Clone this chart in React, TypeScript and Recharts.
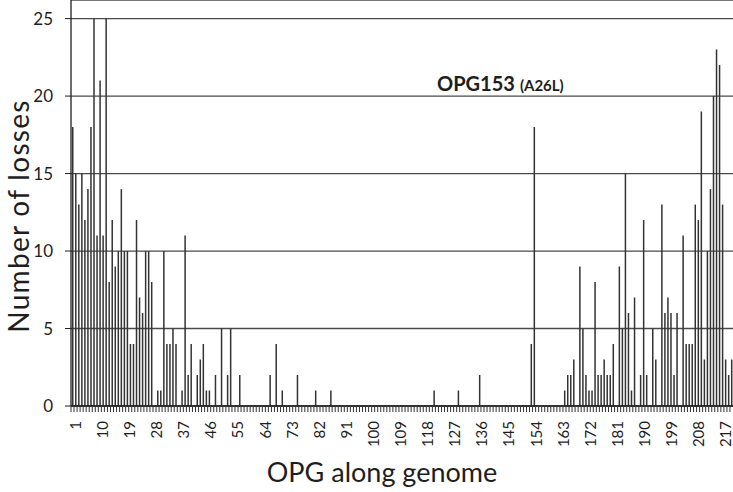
import { BarChart, Bar, XAxis, YAxis, CartesianGrid } from "recharts";

// losses per OPG (OPG 1..218)
const losses = [
  18, 15, 13, 15, 12, 14, 18, 25, 11, 21,
  11, 25, 8, 12, 9, 10, 14, 10, 10, 4,
  4, 12, 7, 6, 10, 10, 8, 0, 1, 1,
  10, 4, 4, 5, 4, 0, 1, 11, 2, 4,
  0, 2, 3, 4, 1, 1, 0, 2, 0, 5,
  0, 2, 5, 0, 0, 2, 0, 0, 0, 0,
  0, 0, 0, 0, 0, 2, 0, 4, 0, 1,
  0, 0, 0, 0, 2, 0, 0, 0, 0, 0,
  1, 0, 0, 0, 0, 1, 0, 0, 0, 0,
  0, 0, 0, 0, 0, 0, 0, 0, 0, 0,
  0, 0, 0, 0, 0, 0, 0, 0, 0, 0,
  0, 0, 0, 0, 0, 0, 0, 0, 0, 1,
  0, 0, 0, 0, 0, 0, 0, 1, 0, 0,
  0, 0, 0, 0, 2, 0, 0, 0, 0, 0,
  0, 0, 0, 0, 0, 0, 0, 0, 0, 0,
  0, 4, 18, 0, 0, 0, 0, 0, 0, 0,
  0, 0, 1, 2, 2, 3, 0, 9, 5, 2,
  1, 1, 8, 2, 2, 3, 2, 2, 4, 0,
  9, 5, 15, 6, 1, 7, 0, 2, 12, 2,
  0, 5, 3, 0, 13, 6, 7, 6, 2, 6,
  0, 11, 4, 4, 4, 13, 12, 19, 3, 10,
  14, 20, 23, 22, 13, 3, 2, 3,
];
const opg = losses.map((_, i) => i + 1);
const yTicks = [0, 5, 10, 15, 20, 25];
const labelEvery = 9;

const data = opg.map((n, i) => ({ opg: n, losses: losses[i] }));

const FONT = "Lato, 'Liberation Sans', sans-serif";
const INK = "#1e1e1e";
const BAND = 662 / losses.length;

function OpgTick(props: any) {
  const { x, y, payload } = props;
  const i = payload.index;
  // labels in the source sit a little tighter than the bars
  const shift = 2.4 - i * 0.026;
  return (
    <g>
      <line x1={x - BAND / 2} x2={x - BAND / 2} y1={y} y2={y + 6} stroke="#333" />
      {i % labelEvery === 0 && (
        <text
          transform={`translate(${x + shift},${y + 15}) rotate(-90)`}
          textAnchor="end"
          dominantBaseline="central"
          fontSize={15}
          fontFamily={FONT}
          fill={INK}
        >
          {payload.value}
        </text>
      )}
    </g>
  );
}

export default function App() {
  return (
    <div style={{ position: "relative", width: 733, height: 492, background: "#fff" }}>
      <style>{"body{margin:0}"}</style>
      <BarChart
        width={733}
        height={492}
        data={data}
        margin={{ top: 0, right: 0, bottom: 0, left: 0 }}
      >
        <CartesianGrid vertical={false} stroke="#4a4a4a" strokeWidth={1.3} />
        <XAxis
          dataKey="opg"
          interval={0}
          height={86}
          tickSize={0}
          tickMargin={0}
          tickLine={false}
          axisLine={{ stroke: INK, strokeWidth: 1.5 }}
          tick={<OpgTick />}
        />
        <YAxis
          width={71}
          domain={[0, 26.2]}
          ticks={yTicks}
          tickSize={6}
          tickMargin={12}
          axisLine={{ stroke: INK, strokeWidth: 1.3 }}
          tickLine={{ stroke: INK }}
          tick={{ fontSize: 17, fontFamily: FONT, fill: INK }}
        />
        <Bar dataKey="losses" fill="#333" barSize={1.5} isAnimationActive={false} />
      </BarChart>
      <svg
        width={733}
        height={492}
        style={{ position: "absolute", left: 0, top: 0, pointerEvents: "none" }}
      >
        <text
          transform="translate(29,216) rotate(-90)"
          textAnchor="middle"
          fontSize={28}
          letterSpacing={1.3}
          fontFamily={FONT}
          fill={INK}
        >
          Number of losses
        </text>
        <text x={382} y={482} textAnchor="middle" fontSize={27} fontFamily={FONT} fill={INK}>
          OPG along genome
        </text>
        <text x={437} y={91} fontFamily={FONT} fontWeight="bold" fill={INK}>
          <tspan fontSize={20}>OPG153</tspan>
          <tspan fontSize={15} dx={5}>(A26L)</tspan>
        </text>
      </svg>
    </div>
  );
}
